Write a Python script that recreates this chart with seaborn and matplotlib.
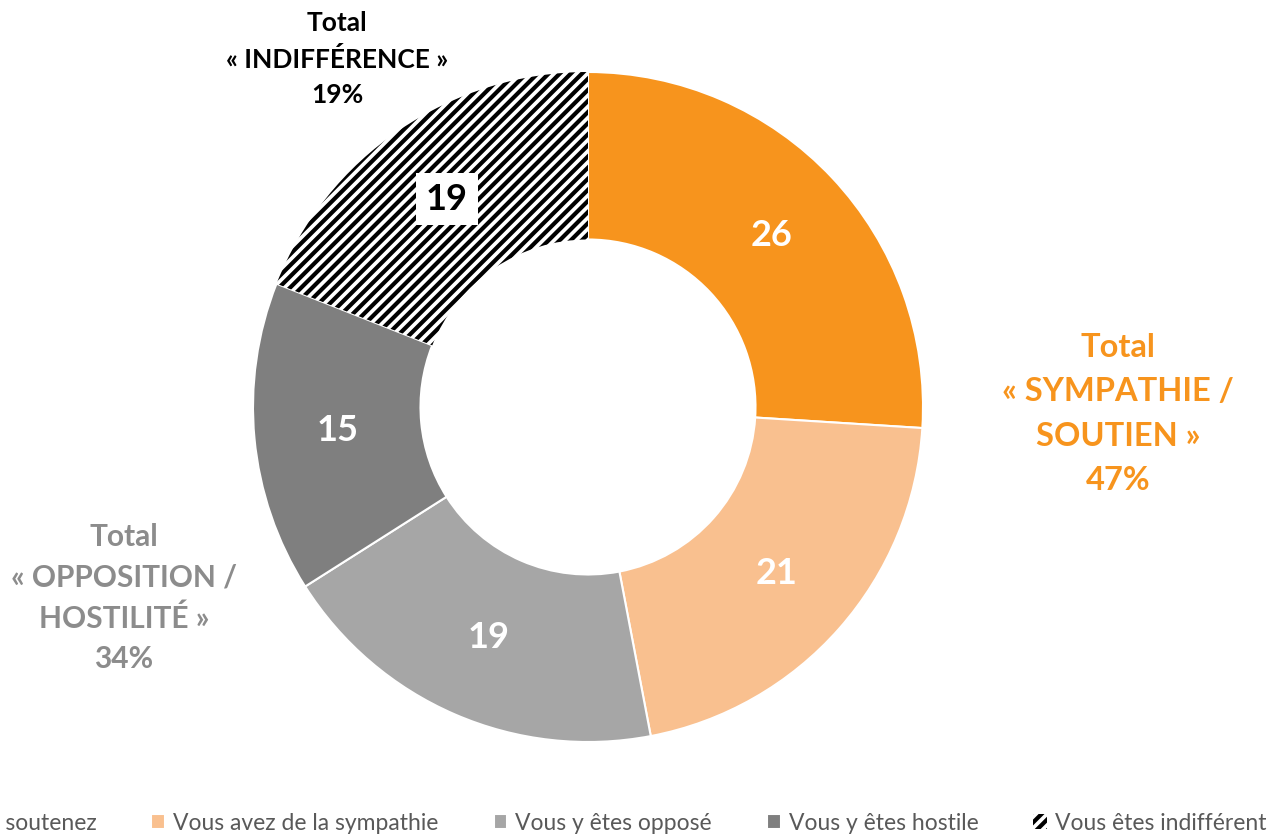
import matplotlib.pyplot as plt
import seaborn as sns

# =========================
# Data
# =========================
labels = ["Vous le soutenez", "Vous avez de la sympathie", "Vous y êtes opposé",
          "Vous y êtes hostile", "Vous êtes indifférent"]
values = [26, 21, 19, 15, 19]
colors = ["#F7941D", "#F9C08F", "#A6A6A6", "#7F7F7F", "white"]

total_labels = ["Total\n« SYMPATHIE /\nSOUTIEN »\n47%",
                "Total\n« OPPOSITION /\nHOSTILITÉ »\n34%",
                "Total\n« INDIFFÉRENCE »\n19%"]
total_colors = ["#F7941D", "#8C8C8C", "black"]

# =========================
# Style
# =========================
sns.set_theme(style="white")
plt.rcParams["font.family"] = ["Lato", "DejaVu Sans"]
plt.rcParams["hatch.linewidth"] = 3.0

W, H = 1268, 835
cx, cy, R = 588, 407, 335

fig = plt.figure(figsize=(W / 100, H / 100), dpi=100)
ax = fig.add_axes([0, 0, 1, 1])

wedges, texts, autotexts = ax.pie(
    values, colors=colors, startangle=90, counterclock=False, radius=1,
    autopct=lambda p: f"{p:.0f}", pctdistance=0.75,
    wedgeprops=dict(width=0.5, edgecolor="white", linewidth=1.5),
    textprops=dict(fontsize=26, fontweight="bold", color="white"))

# hatched "indifférent" wedge
wedges[4].set_hatch("///")
wedges[4].set_edgecolor("black")
wedges[4].set_linewidth(0)
autotexts[4].set_color("black")
autotexts[4].set_bbox(dict(facecolor="white", edgecolor="none", pad=7))

ax.set_xlim(-cx / R, (W - cx) / R)
ax.set_ylim(-(H - cy) / R, cy / R)
ax.set_axis_off()

# =========================
# Group totals
# =========================
pos = [(1118, 414), (124, 598), (337, 59)]
sizes = [23.5, 21.5, 19]
spacing = [1.65, 1.55, 1.57]
for txt, col, (px, py), fs, ls in zip(total_labels, total_colors, pos, sizes, spacing):
    ax.text((px - cx) / R, (cy - py) / R, txt, color=col, fontsize=fs,
            fontweight="bold", ha="center", va="center", linespacing=ls)

# =========================
# Legend (cut off at the left, as in the source)
# =========================
fig.legend(wedges, labels, loc="center right", bbox_to_anchor=(0.999, 12 / H),
           ncol=5, frameon=False, fontsize=16.5, labelcolor="#595959",
           handlelength=0.6, handleheight=0.6, handletextpad=0.35,
           columnspacing=2.4, borderaxespad=0, borderpad=0)

plt.savefig("out.png", dpi=100)
